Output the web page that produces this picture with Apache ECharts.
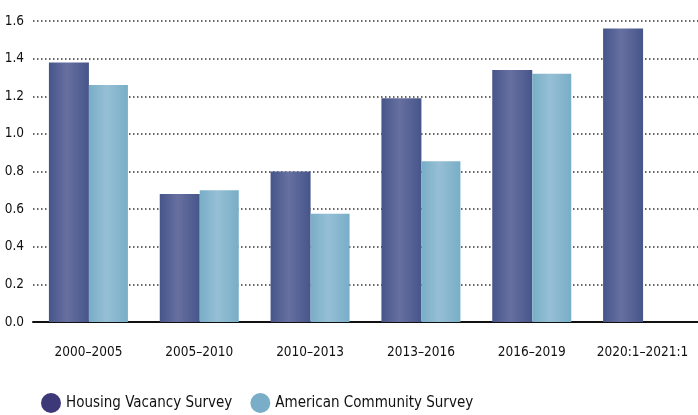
<!DOCTYPE html>
<html>
<head>
<meta charset="utf-8">
<script src="https://cdn.jsdelivr.net/npm/echarts@6/dist/echarts.min.js"></script>
<style>
    html, body { margin: 0; padding: 0; background: #fff; }
    #chart { width: 698px; height: 415px; }
</style>
</head>
<body>
<div id="chart"></div>
<script>
var categories = ['2000\u20132005', '2005\u20132010', '2010\u20132013', '2013\u20132016', '2016\u20132019', '2020:1\u20132021:1'];
var hvsValues = [1.38, 0.68, 0.80, 1.19, 1.34, 1.56];
var acsValues = [1.26, 0.70, 0.575, 0.855, 1.32, null];
var yTicks = [0, 0.2, 0.4, 0.6, 0.8, 1.0, 1.2, 1.4, 1.6];

var font = '"DejaVu Sans Condensed", "Liberation Sans Narrow", sans-serif';

function barFill(edge, mid) {
    return new echarts.graphic.LinearGradient(0, 0, 1, 0, [
        { offset: 0, color: edge },
        { offset: 0.45, color: mid },
        { offset: 1, color: edge }
    ]);
}

var myChart = echarts.init(document.getElementById('chart'));
var option = {
    animation: false,
    grid: { left: 33, right: 0, top: 21, bottom: 93 },
    legend: {
        left: 36,
        bottom: -3,
        icon: 'circle',
        itemWidth: 20,
        itemHeight: 20,
        itemGap: 18,
        textStyle: { fontFamily: font, fontSize: 15, color: '#111' },
        data: [
            { name: 'Housing Vacancy Survey', itemStyle: { color: '#3d3878' } },
            { name: 'American Community Survey', itemStyle: { color: '#7aaec8' } }
        ]
    },
    xAxis: {
        type: 'category',
        data: categories,
        axisLine: { lineStyle: { color: '#111', width: 2 } },
        axisTick: { show: false },
        axisLabel: { fontFamily: font, fontSize: 13.5, color: '#111', margin: 23, interval: 0 }
    },
    yAxis: {
        type: 'value',
        min: yTicks[0],
        max: yTicks[yTicks.length - 1],
        interval: 0.2,
        axisLine: { show: false },
        axisTick: { show: false },
        axisLabel: {
            fontFamily: font, fontSize: 13.5, color: '#111', margin: 9,
            formatter: function (v) { return v.toFixed(1); }
        },
        splitLine: { lineStyle: { color: '#333', width: 1.5, type: [1.5, 2.5] } }
    },
    series: [
        {
            name: 'Housing Vacancy Survey',
            type: 'bar',
            data: hvsValues,
            barWidth: 40,
            barGap: '0%',
            itemStyle: { color: barFill('#46558a', '#6770a0') }
        },
        {
            name: 'American Community Survey',
            type: 'bar',
            data: acsValues,
            barWidth: 39,
            barGap: '0%',
            itemStyle: { color: barFill('#78aec7', '#96bfd5') }
        }
    ]
};
myChart.setOption(option);
</script>
</body>
</html>
